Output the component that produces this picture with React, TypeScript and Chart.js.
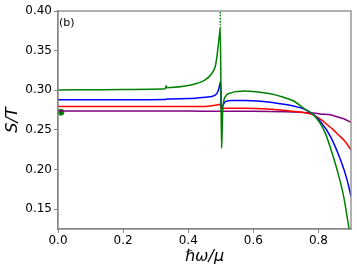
import { useEffect, useRef } from 'react';
import { Chart, registerables } from 'chart.js';

Chart.register(...registerables);

const xTicks = [0, 0.2, 0.4, 0.6, 0.8];
const yTicks = [0.15, 0.2, 0.25, 0.3, 0.35, 0.4];
const panelLabel = '(b)';
const xTitle = 'ℏω/μ';
const yTitle = 'S/T';

const greenX = [0, 0.1, 0.2, 0.283, 0.33, 0.332, 0.334, 0.345, 0.4, 0.452, 0.473, 0.483, 0.488, 0.493, 0.4975, 0.4985, 0.5005, 0.5025, 0.504, 0.506, 0.509, 0.514, 0.534, 0.575, 0.6, 0.652, 0.69, 0.724, 0.755, 0.785, 0.806, 0.822, 0.837, 0.857, 0.878, 0.893, 0.9];
const greenY = [0.3004, 0.3007, 0.301, 0.3013, 0.3018, 0.3058, 0.3033, 0.3035, 0.306, 0.313, 0.3215, 0.33, 0.342, 0.359, 0.376, 0.378, 0.3, 0.227, 0.245, 0.275, 0.286, 0.292, 0.297, 0.299, 0.2985, 0.2955, 0.2915, 0.2865, 0.2773, 0.269, 0.258, 0.245, 0.227, 0.2, 0.165, 0.128, 0.112];

const greenDotX = [0.4985, 0.4985];
const greenDotY = [0.378, 0.4];

const blueX = [0, 0.2, 0.33, 0.335, 0.4, 0.452, 0.483, 0.493, 0.4975, 0.4995, 0.5015, 0.504, 0.508, 0.514, 0.534, 0.575, 0.612, 0.652, 0.684, 0.72, 0.755, 0.785, 0.806, 0.837, 0.868, 0.888, 0.9];
const blueY = [0.288, 0.2882, 0.2885, 0.289, 0.2895, 0.2912, 0.294, 0.3004, 0.308, 0.311, 0.277, 0.2795, 0.282, 0.2857, 0.287, 0.287, 0.2866, 0.285, 0.283, 0.2805, 0.2765, 0.269, 0.2605, 0.2416, 0.212, 0.187, 0.166];

const redX = [0, 0.2, 0.4, 0.452, 0.483, 0.493, 0.4985, 0.5005, 0.509, 0.575, 0.652, 0.72, 0.755, 0.785, 0.806, 0.826, 0.846, 0.862, 0.878, 0.89, 0.9];
const redY = [0.2794, 0.2794, 0.2794, 0.2796, 0.281, 0.282, 0.2824, 0.2765, 0.2773, 0.2773, 0.276, 0.2735, 0.2718, 0.269, 0.2635, 0.257, 0.25, 0.2435, 0.2374, 0.231, 0.2245];

const purpleX = [0, 0.2, 0.4, 0.5, 0.6, 0.7, 0.745, 0.785, 0.806, 0.837, 0.857, 0.878, 0.9];
const purpleY = [0.274, 0.274, 0.2738, 0.2735, 0.2735, 0.273, 0.2723, 0.2712, 0.2702, 0.269, 0.2665, 0.264, 0.2595];

const markerX = [0.009];
const markerY = [0.2723];

const toPts = (xs: number[], ys: number[]) => xs.map((x, i) => ({ x, y: ys[i] }));

const framePlugin = {
  id: 'frame',
  afterDraw(chart: any) {
    const { ctx, chartArea: a } = chart;
    ctx.save();
    ctx.strokeStyle = '#888';
    ctx.lineWidth = 1.3;
    ctx.strokeRect(a.left, a.top, a.right - a.left, a.bottom - a.top);
    ctx.fillStyle = '#000';
    ctx.font = '11px "DejaVu Sans"';
    ctx.textBaseline = 'top';
    ctx.textAlign = 'left';
    ctx.fillText(panelLabel, a.left + 1, a.top + 7);
    ctx.restore();
  },
};

export default function App() {
  const ref = useRef<HTMLCanvasElement>(null);
  useEffect(() => {
    document.body.style.margin = '0';
    const tickFont = { family: '"DejaVu Sans"', size: 12 };
    const titleFont = { family: '"DejaVu Sans"', size: 16, style: 'italic' as const };
    const line = (label: string, xs: number[], ys: number[], color: string, extra: any = {}) => ({
      type: 'line' as const,
      label,
      data: toPts(xs, ys),
      borderColor: color,
      backgroundColor: color,
      borderWidth: 1.5,
      pointRadius: 0,
      fill: false,
      cubicInterpolationMode: 'monotone' as const,
      ...extra,
    });
    const chart = new Chart(ref.current!, {
      type: 'line',
      data: {
        datasets: [
          line('green', greenX, greenY, '#008000'),
          line('green dotted', greenDotX, greenDotY, '#008000', { borderDash: [1.5, 1.5] }),
          line('blue', blueX, blueY, '#0000ff'),
          line('red', redX, redY, '#ff0000'),
          line('purple', purpleX, purpleY, '#800080'),
          {
            type: 'scatter' as const,
            label: 'marker',
            data: toPts(markerX, markerY),
            backgroundColor: '#008000',
            borderColor: '#008000',
            pointRadius: 3,
          } as any,
        ],
      },
      options: {
        responsive: false,
        animation: false,
        events: [],
        layout: { padding: { left: 0, top: 11, right: 6, bottom: 0 } },
        plugins: { legend: { display: false }, tooltip: { enabled: false } },
        scales: {
          x: {
            type: 'linear',
            min: 0,
            max: 0.9,
            afterBuildTicks: (s: any) => {
              s.ticks = xTicks.map((v) => ({ value: v }));
            },
            afterFit: (s: any) => {
              s.height = 44;
            },
            ticks: {
              callback: (v: any) => Number(v).toFixed(1),
              font: tickFont,
              color: '#000',
              padding: 1,
              maxRotation: 0,
              autoSkip: false,
            },
            grid: { drawOnChartArea: false, drawTicks: true, tickLength: 4, color: '#888', tickWidth: 1 },
            border: { display: true, color: '#888', width: 1.3 },
            title: { display: true, text: xTitle, font: titleFont, color: '#000', padding: { top: 0, bottom: 7 } },
          },
          y: {
            type: 'linear',
            min: 0.125,
            max: 0.4,
            afterBuildTicks: (s: any) => {
              s.ticks = yTicks.map((v) => ({ value: v }));
            },
            afterFit: (s: any) => {
              s.width = 58;
            },
            ticks: {
              callback: (v: any) => Number(v).toFixed(2),
              font: tickFont,
              color: '#000',
              padding: 2,
              autoSkip: false,
            },
            grid: { drawOnChartArea: false, drawTicks: true, tickLength: 4, color: '#888', tickWidth: 1 },
            border: { display: true, color: '#888', width: 1.3 },
            title: { display: true, text: yTitle, font: titleFont, color: '#000', padding: { top: 3, bottom: 0 } },
          },
        },
      },
      plugins: [framePlugin],
    });
    return () => chart.destroy();
  }, []);
  return (
    <div style={{ position: 'fixed', left: 0, top: 0, width: 357, height: 273 }}>
      <canvas ref={ref} width={357} height={273} style={{ display: 'block' }} />
    </div>
  );
}
